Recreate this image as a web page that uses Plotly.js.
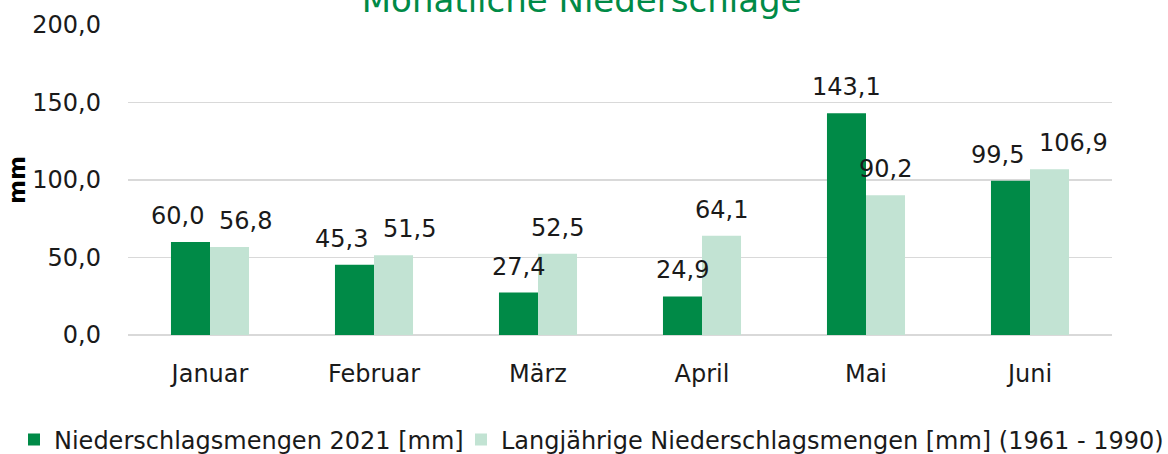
<!DOCTYPE html>
<html>
<head>
<meta charset="utf-8">
<script src="https://cdn.plot.ly/plotly-3.0.1.min.js"></script>
<style>html,body{margin:0;padding:0;background:#fff;}#chart{width:1168px;height:454px;}</style>
</head>
<body>
<div id="chart"></div>
<script>
var months = ["Januar", "Februar", "März", "April", "Mai", "Juni"];
var rain2021 = [60.0, 45.3, 27.4, 24.9, 143.1, 99.5];
var rainLongTerm = [56.8, 51.5, 52.5, 64.1, 90.2, 106.9];
var seriesNames = ["Niederschlagsmengen 2021 [mm]", "Langjährige Niederschlagsmengen [mm] (1961 - 1990)"];
var yTicks = [0, 50, 100, 150, 200];

var darkGreen = "#008a47";
var lightGreen = "#c2e3d3";
var font = "'DejaVu Sans', 'Liberation Sans', Arial, sans-serif";
var textColor = "#1a1a1a";

function fmt(v) { return v.toFixed(1).replace(".", ","); }

var pxPerUnit = 310 / 200;
var annotations = [];
months.forEach(function (m, i) {
  var a = rain2021[i], b = rainLongTerm[i];
  var close = Math.abs(a - b) * pxPerUnit < 26;
  annotations.push({
    x: m, y: a, xref: "x", yref: "y", text: fmt(a), showarrow: false,
    xanchor: close ? "right" : "center", xshift: close ? -4 : -19.5,
    yanchor: "bottom", yshift: 10,
    font: {family: font, size: 24, color: textColor}
  });
  annotations.push({
    x: m, y: b, xref: "x", yref: "y", text: fmt(b), showarrow: false,
    xanchor: close ? "left" : "center", xshift: close ? 7 : 19.5,
    yanchor: "bottom", yshift: 10,
    font: {family: font, size: 24, color: textColor}
  });
});

var traces = [
  {type: "bar", name: seriesNames[0], x: months, y: rain2021, marker: {color: darkGreen}, hoverinfo: "y", legend: "legend"},
  {type: "bar", name: seriesNames[1], x: months, y: rainLongTerm, marker: {color: lightGreen}, hoverinfo: "y", legend: "legend2"}
];

var legendBase = {
  orientation: "h", xref: "container", yref: "container",
  xanchor: "left", y: 0.031, yanchor: "middle",
  font: {family: font, size: 24, color: textColor},
  itemwidth: 30, bgcolor: "rgba(0,0,0,0)", borderwidth: 0
};

var layout = {
  width: 1168, height: 454,
  margin: {l: 128, r: 56, t: 25, b: 119},
  paper_bgcolor: "#ffffff", plot_bgcolor: "#ffffff",
  separators: ",.",
  barmode: "group", bargap: 0.524, bargroupgap: 0,
  title: {
    text: "Monatliche Niederschläge",
    font: {family: font, size: 34, color: darkGreen},
    x: 0.498, xanchor: "center", xref: "container",
    y: 1, yanchor: "middle", yref: "container"
  },
  font: {family: font, size: 24, color: textColor},
  xaxis: {
    type: "category", showgrid: false, zeroline: false, showline: false,
    ticks: "", ticklabelstandoff: 22,
    tickfont: {family: font, size: 24, color: textColor}
  },
  yaxis: {
    range: [0, 200], tickvals: yTicks, ticktext: yTicks.map(fmt),
    showgrid: true, gridcolor: "#d9d9d9", gridwidth: 1.5,
    zeroline: true, zerolinecolor: "#d9d9d9", zerolinewidth: 1.5,
    showline: false, ticks: "", ticklabelstandoff: 26,
    tickfont: {family: font, size: 24, color: textColor},
    title: {text: "mm", standoff: 0, font: {family: font, size: 23, color: "#000", weight: "bold"}}
  },
  showlegend: true,
  legend: Object.assign({}, legendBase, {x: 14 / 1168}),
  legend2: Object.assign({}, legendBase, {x: 461 / 1168}),
  annotations: annotations
};

Plotly.newPlot("chart", traces, layout, {displayModeBar: false, staticPlot: true});
</script>
</body>
</html>
